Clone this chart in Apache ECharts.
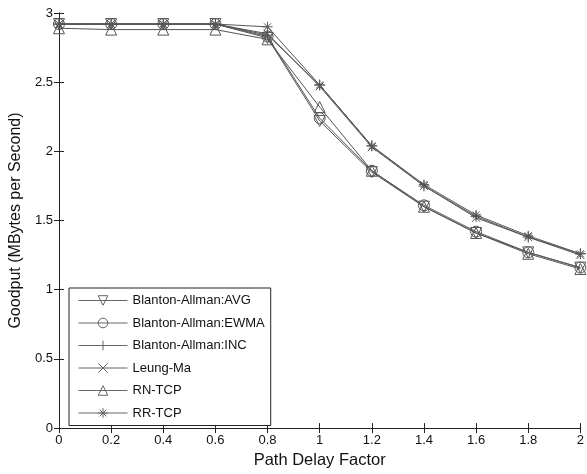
<!DOCTYPE html>
<html><head><meta charset="utf-8">
<script src="https://cdn.jsdelivr.net/npm/echarts@6/dist/echarts.min.js"></script>
<style>html,body{margin:0;padding:0;background:#fff}#c{width:587px;height:474px}</style>
</head><body><div id="c"></div>
<script>
const xValues = [0, 0.2, 0.4, 0.6, 0.8, 1.0, 1.2, 1.4, 1.6, 1.8, 2.0];
const avg   = [2.92, 2.92, 2.92, 2.92, 2.82, 2.22, 1.85, 1.60, 1.41, 1.27, 1.16];
const ewma  = [2.92, 2.92, 2.92, 2.92, 2.83, 2.24, 1.86, 1.61, 1.42, 1.27, 1.16];
const inc   = [2.92, 2.92, 2.92, 2.92, 2.84, 2.48, 2.04, 1.75, 1.53, 1.38, 1.26];
const leung = [2.92, 2.92, 2.92, 2.92, 2.85, 2.47, 2.03, 1.75, 1.52, 1.38, 1.25];
const rntcp = [2.89, 2.88, 2.88, 2.88, 2.81, 2.32, 1.86, 1.60, 1.41, 1.26, 1.15];
const rrtcp = [2.92, 2.92, 2.92, 2.92, 2.90, 2.48, 2.04, 1.76, 1.54, 1.39, 1.26];
const seriesNames = ['Blanton-Allman:AVG','Blanton-Allman:EWMA','Blanton-Allman:INC','Leung-Ma','RN-TCP','RR-TCP'];
const seriesData = [avg, ewma, inc, leung, rntcp, rrtcp];
const symbols = [
  'path://M-1,-0.9 L1,-0.9 L0,1 Z',
  'circle',
  'path://M0,-1 L0,1 M-1,0 L1,0',
  'path://M-1,-1 L1,1 M-1,1 L1,-1',
  'path://M-1,0.9 L1,0.9 L0,-1 Z',
  'path://M0,-1 L0,1 M-1,0 L1,0 M-0.7,-0.7 L0.7,0.7 M-0.7,0.7 L0.7,-0.7'
];
const symSizes = [11, 11, 11, 8, 11, 10];
const col = '#555';
const font = 'Liberation Sans, Arial, sans-serif';
const chart = echarts.init(document.getElementById('c'));
const axisCommon = {
  axisLine: {show: true, lineStyle: {color: '#222', width: 1}},
  axisTick: {show: true, inside: true, length: 5, lineStyle: {color: '#222'}},
  splitLine: {show: false}
};
chart.setOption({
  animation: false,
  backgroundColor: '#fff',
  grid: {left: 56, right: 2, top: 13, bottom: 44},
  xAxis: [
    Object.assign({type: 'value', min: 0, max: 2, interval: 0.2, position: 'bottom',
      name: 'Path Delay Factor', nameLocation: 'middle', nameGap: 22,
      nameTextStyle: {fontFamily: font, fontSize: 16.5, color: '#111'},
      axisLabel: {fontFamily: font, fontSize: 13, color: '#111', margin: 6,
        formatter: v => String(Math.round(v * 10) / 10)}}, axisCommon),
    Object.assign({type: 'value', min: 0, max: 2, interval: 0.2, position: 'top',
      axisLabel: {show: false}}, axisCommon)
  ],
  yAxis: [
    Object.assign({type: 'value', min: 0, max: 3, interval: 0.5, position: 'left',
      name: 'Goodput (MBytes per Second)', nameLocation: 'middle', nameGap: 29,
      nameTextStyle: {fontFamily: font, fontSize: 16, color: '#111'},
      axisLabel: {fontFamily: font, fontSize: 13, color: '#111', margin: 6}}, axisCommon),
    Object.assign({type: 'value', min: 0, max: 3, interval: 0.5, position: 'right',
      axisLabel: {show: false}}, axisCommon)
  ],
  legend: {
    orient: 'vertical', left: 69, top: 288,
    data: seriesNames,
    itemWidth: 49, itemHeight: 12, itemGap: 9.5,
    padding: [6, 6, 6, 9],
    borderColor: '#222', borderWidth: 1, backgroundColor: '#fff',
    lineStyle: {width: 1, color: '#666'},
    itemStyle: {borderWidth: 1, borderColor: '#666', color: 'rgba(255,255,255,0)'},
    textStyle: {fontFamily: font, fontSize: 13, color: '#111'}
  },
  series: seriesNames.map((n, i) => ({
    name: n, type: 'line',
    data: xValues.map((x, j) => [x, seriesData[i][j]]),
    symbol: symbols[i], symbolSize: symSizes[i],
    showAllSymbol: true,
    lineStyle: {color: col, width: 1},
    itemStyle: {color: 'rgba(255,255,255,0)', borderColor: col, borderWidth: 1},
    emphasis: {disabled: true}
  }))
});
</script></body></html>
